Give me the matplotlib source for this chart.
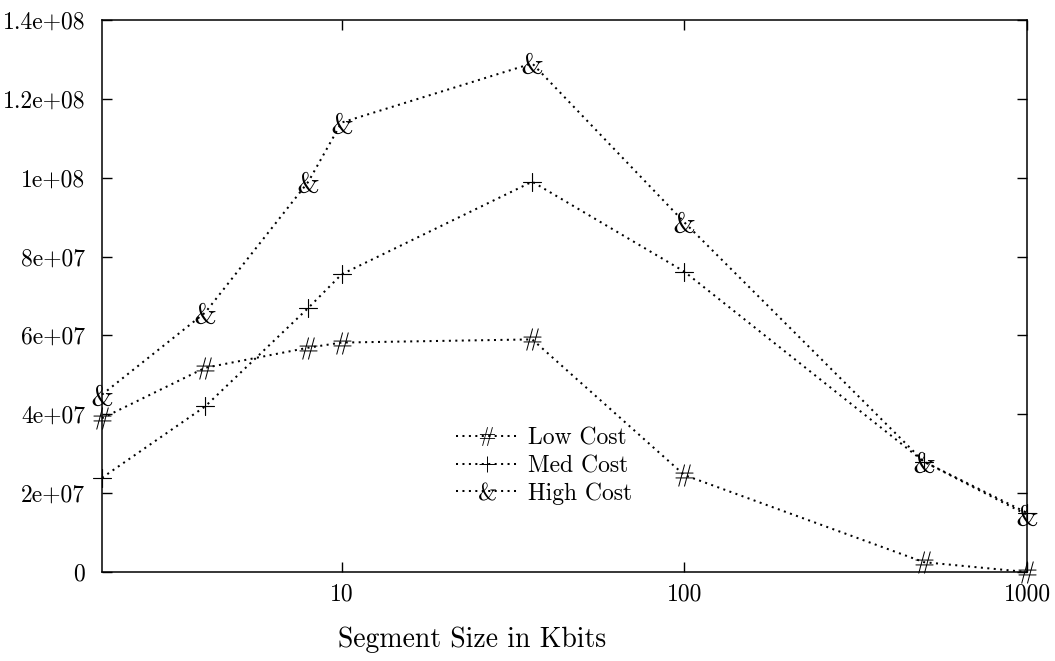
import matplotlib
matplotlib.use("Agg")
import matplotlib.pyplot as plt
from matplotlib.ticker import FixedLocator, FuncFormatter, NullLocator
from matplotlib.textpath import TextPath
from matplotlib.font_manager import FontProperties
from matplotlib.path import Path

plt.rcParams['font.family'] = ['cmr10', 'DejaVu Serif']
plt.rcParams['axes.formatter.use_mathtext'] = True
plt.rcParams['axes.unicode_minus'] = False

# segment size (Kbits) and cost per series
seg_size = [2, 4, 8, 10, 36, 100, 500, 1000]
low_cost = [3.9e7, 5.18e7, 5.69e7, 5.82e7, 5.9e7, 2.46e7, 0.25e7, 0.0]
med_cost = [2.39e7, 4.2e7, 6.7e7, 7.55e7, 9.9e7, 7.62e7, 2.8e7, 1.5e7]
high_cost = [4.5e7, 6.58e7, 9.9e7, 1.14e8, 1.29e8, 8.87e7, 2.8e7, 1.45e7]

series_names = ['Low Cost', 'Med Cost', 'High Cost']
series_chars = ['#', '+', '&']

x_ticks = [10, 100, 1000]
y_ticks = [0, 2e7, 4e7, 6e7, 8e7, 1e8, 1.2e8, 1.4e8]


def glyph_marker(ch):
    # turn a font glyph into a centred marker path
    tp = TextPath((0, 0), ch, size=10, prop=FontProperties(family='cmr10'))
    ext = tp.get_extents()
    cx, cy = (ext.x0 + ext.x1) / 2, (ext.y0 + ext.y1) / 2
    verts = tp.vertices.copy()
    verts[:, 0] -= cx
    verts[:, 1] -= cy
    return Path(verts, tp.codes)


fig = plt.figure(figsize=(10.55, 6.61), dpi=100)
ax = fig.add_axes([0.0967, 0.1346, 0.8768, 0.8351])

dots = (0, (1, 2.2))
for ys, name, ch in zip([low_cost, med_cost, high_cost], series_names, series_chars):
    ax.plot(seg_size, ys, color='black', linestyle=dots, linewidth=1.45,
            marker=glyph_marker(ch), markersize=16, markeredgewidth=0,
            markerfacecolor='black', label=name, clip_on=False)

ax.set_xscale('log')
ax.set_xlim(2, 1000)
ax.set_ylim(0, 1.4e8)

ax.xaxis.set_major_locator(FixedLocator(x_ticks))
ax.xaxis.set_minor_locator(NullLocator())
ax.xaxis.set_major_formatter(FuncFormatter(lambda v, p: '%g' % v))
ax.yaxis.set_major_locator(FixedLocator(y_ticks))
ax.yaxis.set_major_formatter(FuncFormatter(lambda v, p: '%g' % v))

ax.tick_params(axis='both', which='major', direction='in', length=7, width=1,
               top=True, right=True, labelsize=17, colors='black')
ax.tick_params(axis='y', pad=12)
ax.tick_params(axis='x', pad=8)
for s in ax.spines.values():
    s.set_linewidth(1.1)

ax.set_xlabel('Segment Size in Kbits', fontsize=20)
ax.xaxis.set_label_coords(0.40, -0.098)

ax.legend(loc='upper left', bbox_to_anchor=(0.37, 0.283), frameon=False,
          fontsize=17, handlelength=2.6, handletextpad=0.45, labelspacing=0.22,
          numpoints=1, markerscale=0.85, borderpad=0)

fig.savefig('out.png', dpi=100)
